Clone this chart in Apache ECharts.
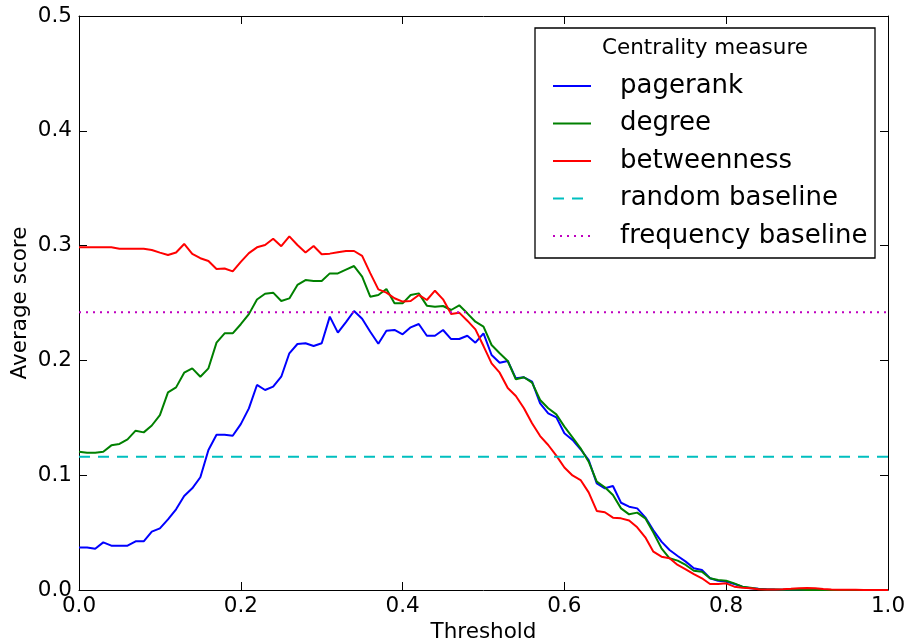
<!DOCTYPE html>
<html>
<head>
<meta charset="utf-8">
<title>Centrality measure</title>
<script src="https://cdn.jsdelivr.net/npm/echarts@6/dist/echarts.min.js"></script>
<style>
    html, body { margin: 0; padding: 0; background: #fff; }
    #chart { width: 909px; height: 644px; }
</style>
</head>
<body>
<div id="chart"></div>
<script>
// 阈值 (x)
var thresholds = [
    0.00,0.01,0.02,0.03,0.04,0.05,0.06,0.07,0.08,0.09,
    0.10,0.11,0.12,0.13,0.14,0.15,0.16,0.17,0.18,0.19,
    0.20,0.21,0.22,0.23,0.24,0.25,0.26,0.27,0.28,0.29,
    0.30,0.31,0.32,0.33,0.34,0.35,0.36,0.37,0.38,0.39,
    0.40,0.41,0.42,0.43,0.44,0.45,0.46,0.47,0.48,0.49,
    0.50,0.51,0.52,0.53,0.54,0.55,0.56,0.57,0.58,0.59,
    0.60,0.61,0.62,0.63,0.64,0.65,0.66,0.67,0.68,0.69,
    0.70,0.71,0.72,0.73,0.74,0.75,0.76,0.77,0.78,0.79,
    0.80,0.81,0.82,0.83,0.84,0.85,0.86,0.87,0.88,0.89,
    0.90,0.91,0.92,0.93,0.94,0.95,0.96,0.97,0.98,0.99,
    1.00
];

var pagerank = [
    0.037,0.037,0.036,0.0415,0.0386,0.0386,0.0386,0.0424,0.0424,0.0508,
    0.0537,0.0615,0.0703,0.0819,0.0886,0.0982,0.122,0.1353,0.1353,0.1344,
    0.1445,0.1582,0.1786,0.1742,0.1771,0.1858,0.2062,0.2143,0.2149,0.2125,
    0.2149,0.2381,0.2242,0.2333,0.243,0.2362,0.225,0.2145,0.2259,0.2265,
    0.2227,0.2288,0.2317,0.2215,0.2215,0.2265,0.2186,0.2186,0.2215,0.2154,
    0.2236,0.2047,0.198,0.1995,0.1844,0.1853,0.1815,0.1626,0.1539,0.1504,
    0.1365,0.1307,0.1226,0.1132,0.0929,0.0886,0.0906,0.076,0.0726,0.0711,
    0.0633,0.052,0.0421,0.0348,0.0296,0.0247,0.0189,0.0174,0.0102,0.0081,
    0.0073,0.0052,0.0029,0.0015,0.001,0.0006,0.0004,0.0003,0.0002,0.0002,
    0.0001,0.0001,0.0001,0,0,0,0,0,0,0,
    0
];

var degree = [
    0.1205,0.1196,0.1196,0.1205,0.126,0.1272,0.1312,0.1388,0.1373,0.1433,
    0.1524,0.1722,0.1765,0.1893,0.1931,0.1858,0.1931,0.2155,0.2236,0.2236,
    0.2315,0.2403,0.253,0.2581,0.259,0.2518,0.254,0.2657,0.27,0.2692,
    0.2692,0.2758,0.2758,0.279,0.2822,0.2729,0.2555,0.257,0.2622,0.2497,
    0.2497,0.257,0.2584,0.2477,0.2468,0.2474,0.2439,0.248,0.241,0.2337,
    0.2294,0.2134,0.2062,0.1995,0.1835,0.1853,0.1806,0.1655,0.1583,0.153,
    0.1423,0.133,0.1234,0.1118,0.0944,0.0895,0.0828,0.0711,0.0659,0.0674,
    0.0624,0.05,0.0363,0.0276,0.0256,0.0218,0.0168,0.016,0.0102,0.0087,
    0.0081,0.0058,0.0029,0.002,0.0009,0.0005,0.0004,0.0003,0.0002,0.0002,
    0.0001,0.0001,0,0,0,0,0,0,0,0,
    0
];

var betweenness = [
    0.2985,0.2985,0.2985,0.2985,0.2985,0.2973,0.2973,0.2973,0.2973,0.2962,
    0.2939,0.2918,0.294,0.3014,0.2927,0.289,0.2866,0.2796,0.28,0.2775,
    0.2858,0.2935,0.2985,0.3005,0.306,0.2995,0.308,0.3005,0.294,0.2997,
    0.2925,0.293,0.2943,0.2953,0.2953,0.291,0.276,0.2619,0.259,0.2541,
    0.2512,0.2517,0.257,0.2526,0.2607,0.2532,0.2404,0.2416,0.2346,0.227,
    0.2125,0.1974,0.1893,0.176,0.169,0.1583,0.1452,0.1341,0.1263,0.117,
    0.1067,0.0998,0.0958,0.085,0.0689,0.0677,0.063,0.0624,0.0605,0.0546,
    0.0459,0.0334,0.029,0.0276,0.0218,0.018,0.0139,0.0102,0.0052,0.0052,
    0.0058,0.0029,0.002,0.0015,0.0006,0.0005,0.0005,0.0006,0.001,0.0015,
    0.0018,0.0015,0.0008,0.0005,0.0003,0.0003,0.0002,0.0001,0.0001,0,
    0
];

// 基线
var randomBaseline = 0.116;
var frequencyBaseline = 0.242;

var fontName = 'DejaVu Sans';
var tickFont = 21.5;

function pairs(ys){
    var out = [];
    for(var i=0;i<thresholds.length;i++){
        out.push([thresholds[i], ys[i]]);
    }
    return out;
}
function flat(v){
    return [[thresholds[0], v], [thresholds[thresholds.length-1], v]];
}

var axisLine = { show: true, onZero: false, lineStyle: { color: '#000', width: 1 } };
var axisTick = { show: true, inside: true, length: 8, lineStyle: { color: '#000', width: 1 } };

var option = {
    animation: false,
    backgroundColor: '#fff',
    textStyle: { fontFamily: fontName },
    grid: { left: 79, right: 21, top: 16, bottom: 54, containLabel: false, outerBoundsMode: 'none' },
    legend: {
        orient: 'vertical',
        left: 547,
        top: 66,
        z: 60,
        itemWidth: 38,
        itemHeight: 14,
        itemGap: 7.5,
        itemStyle: { opacity: 0 },
        textStyle: { fontFamily: fontName, fontSize: 26, color: '#000', lineHeight: 30, padding: [0, 0, 0, 24] },
        data: ['pagerank', 'degree', 'betweenness', 'random baseline', 'frequency baseline']
    },
    graphic: [
        {
            type: 'rect',
            shape: { x: 535, y: 28, width: 340, height: 230 },
            style: { fill: '#fff', stroke: '#000', lineWidth: 1.3 },
            z: 20
        },
        {
            type: 'text',
            x: 705,
            y: 48,
            style: { text: 'Centrality measure', font: '21.5px "DejaVu Sans"', fill: '#000', align: 'center', verticalAlign: 'middle' },
            z: 21
        }
    ],
    xAxis: [
        {
            type: 'value', min: 0, max: 1, interval: 0.2, position: 'bottom',
            name: 'Threshold', nameLocation: 'middle', nameGap: 31, nameMoveOverlap: false,
            nameTextStyle: { fontFamily: fontName, fontSize: tickFont, color: '#000' },
            axisLine: axisLine, axisTick: axisTick,
            axisLabel: { fontFamily: fontName, fontSize: tickFont, color: '#000', margin: 5,
                formatter: function(v){ return v.toFixed(1); } },
            splitLine: { show: false }
        },
        {
            type: 'value', min: 0, max: 1, interval: 0.2, position: 'top',
            axisLine: axisLine, axisTick: axisTick,
            axisLabel: { show: false }, splitLine: { show: false }
        }
    ],
    yAxis: [
        {
            type: 'value', min: 0, max: 0.5, interval: 0.1, position: 'left',
            name: 'Average score', nameLocation: 'middle', nameGap: 48, nameRotate: 90, nameMoveOverlap: false,
            nameTextStyle: { fontFamily: fontName, fontSize: tickFont, color: '#000' },
            axisLine: axisLine, axisTick: axisTick,
            axisLabel: { fontFamily: fontName, fontSize: tickFont, color: '#000', margin: 7,
                formatter: function(v){ return v.toFixed(1); } },
            splitLine: { show: false }
        },
        {
            type: 'value', min: 0, max: 0.5, interval: 0.1, position: 'right',
            axisLine: axisLine, axisTick: axisTick,
            axisLabel: { show: false }, splitLine: { show: false }
        }
    ],
    series: [
        {
            name: 'pagerank', type: 'line', symbol: 'none', color: '#0000ff',
            lineStyle: { width: 2, color: '#0000ff' },
            data: pairs(pagerank)
        },
        {
            name: 'degree', type: 'line', symbol: 'none', color: '#008000',
            lineStyle: { width: 2, color: '#008000' },
            data: pairs(degree)
        },
        {
            name: 'betweenness', type: 'line', symbol: 'none', color: '#ff0000',
            lineStyle: { width: 2, color: '#ff0000' },
            data: pairs(betweenness)
        },
        {
            name: 'random baseline', type: 'line', symbol: 'none', color: '#00bfbf',
            lineStyle: { width: 2, color: '#00bfbf', type: [11, 8] },
            data: flat(randomBaseline)
        },
        {
            name: 'frequency baseline', type: 'line', symbol: 'none', color: '#bf00bf',
            lineStyle: { width: 2, color: '#bf00bf', type: [2, 5] },
            data: flat(frequencyBaseline)
        }
    ]
};

var chart = echarts.init(document.getElementById('chart'), null, { renderer: 'canvas' });
chart.setOption(option);
window.addEventListener('resize', function(){ chart.resize(); });
</script>
</body>
</html>
